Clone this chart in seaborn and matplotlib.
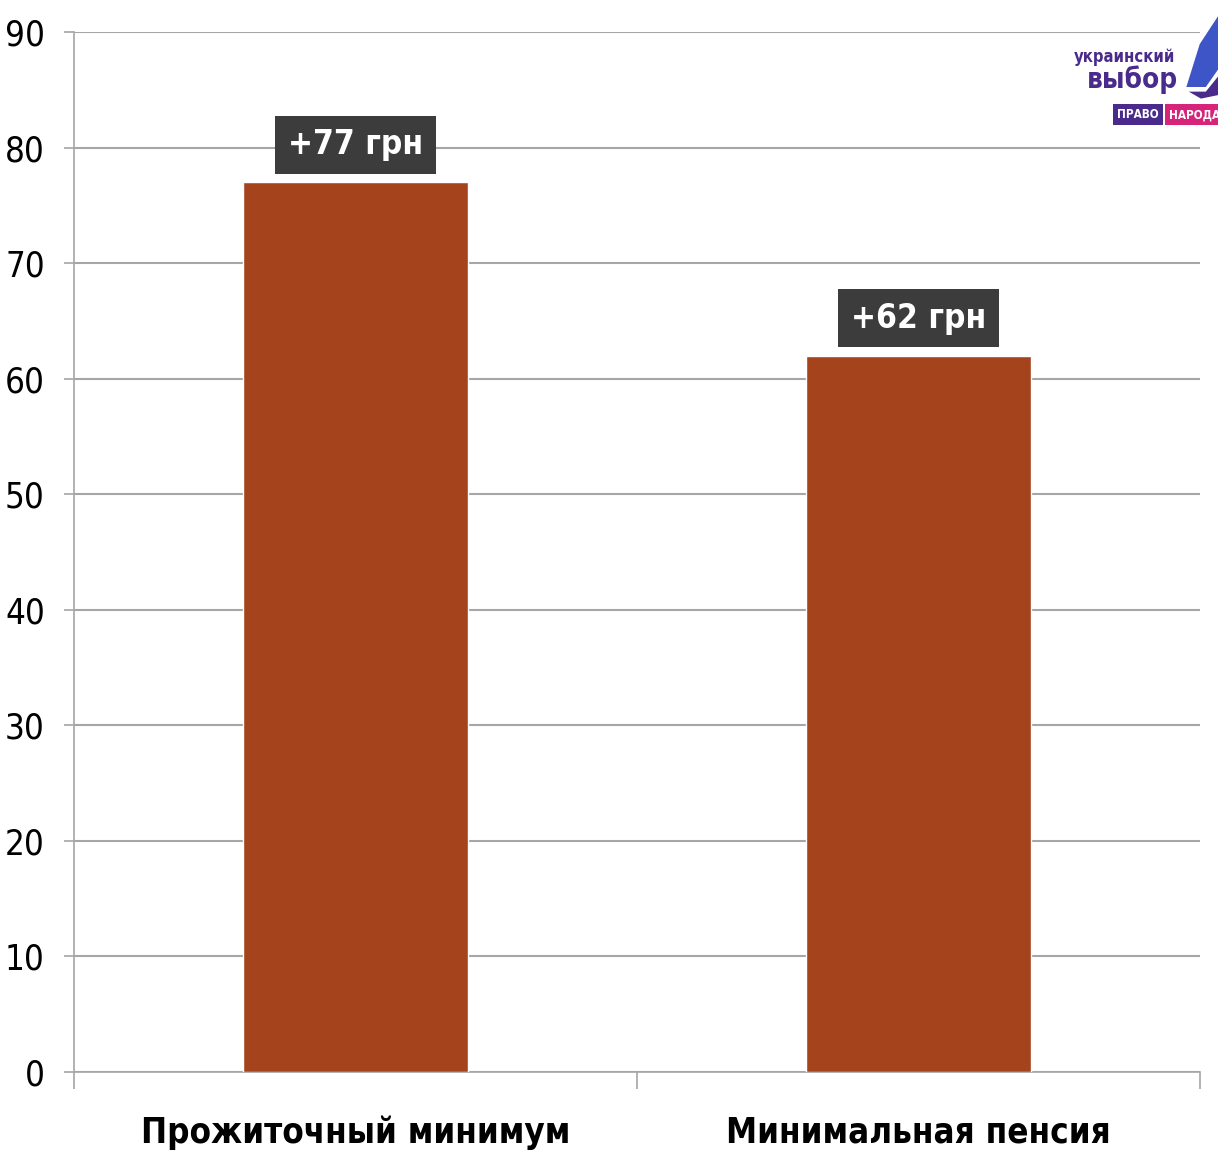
import matplotlib
matplotlib.use("Agg")
import matplotlib.pyplot as plt
import seaborn as sns
import pandas as pd
from matplotlib.patches import Polygon

categories = ["Прожиточный минимум", "Минимальная пенсия"]
values = [77, 62]
bar_labels = ["+77 грн", "+62 грн"]
y_ticks = [0, 10, 20, 30, 40, 50, 60, 70, 80, 90]

BAR_COLOR = "#A5441C"
GRID_COLOR = "#A6A6A6"
LOGO_PURPLE = "#4A2B8C"
LOGO_PINK = "#D6247A"

sns.set_style("white")
plt.rcParams["font.family"] = ["DejaVu Sans"]
plt.rcParams["font.stretch"] = "condensed"

df = pd.DataFrame({"category": categories, "value": values})

fig = plt.figure(figsize=(12.18, 11.6), dpi=100)
ax = fig.add_axes([0.0608, 0.0759, 0.9244, 0.8965])

sns.barplot(data=df, x="category", y="value", color=BAR_COLOR, width=0.4,
            saturation=1, ax=ax, zorder=3)

ax.set_ylim(0, 90)
ax.set_xlim(-0.5, 1.5)
ax.set_yticks(y_ticks)
ax.set_yticklabels([str(t) for t in y_ticks], fontsize=25, color="black")
ax.yaxis.grid(True, color=GRID_COLOR, linewidth=1.5, zorder=0)
ax.set_axisbelow(True)
ax.tick_params(axis="y", length=7, width=1.2, color=GRID_COLOR, pad=14, left=True)

# category boundaries get the ticks, names sit in between
ax.set_xticks([-0.5, 0.5, 1.5])
ax.set_xticklabels(["", "", ""])
ax.tick_params(axis="x", which="major", length=12, width=1.2, color=GRID_COLOR,
               bottom=True)
ax.set_xticks([0, 1], minor=True)
ax.set_xticklabels(categories, minor=True, fontsize=25, fontweight="bold",
                   color="black")
ax.tick_params(axis="x", which="minor", length=0, pad=31)

for s in ["top", "right"]:
    ax.spines[s].set_visible(False)
for s in ["left", "bottom"]:
    ax.spines[s].set_color(GRID_COLOR)
    ax.spines[s].set_linewidth(1.2)

ax.set_xlabel("")
ax.set_ylabel("")

for i, (v, lab) in enumerate(zip(values, bar_labels)):
    ax.annotate(lab, xy=(i, v), xytext=(0, 15), textcoords="offset points",
                ha="center", va="bottom", color="white", fontsize=24,
                fontweight="bold", zorder=5,
                bbox=dict(boxstyle="square,pad=0.38", fc="#3C3C3C", ec="none"))

# logo in the top right corner
swoosh = Polygon([[0.974, 0.925], [0.985, 0.962], [1.0, 0.986], [1.0, 0.94],
                  [0.99, 0.925]], closed=True, transform=fig.transFigure,
                 fc="#3E55C8", ec="none")
fig.patches.append(swoosh)
swoosh2 = Polygon([[0.976, 0.921], [0.99, 0.921], [1.0, 0.934], [1.0, 0.918],
                   [0.986, 0.915]], closed=True, transform=fig.transFigure,
                  fc=LOGO_PURPLE, ec="none")
fig.patches.append(swoosh2)
fig.text(0.965, 0.951, "украинский", ha="right", va="center", fontsize=12,
         fontweight="bold", color=LOGO_PURPLE)
fig.text(0.967, 0.931, "выбор", ha="right", va="center", fontsize=20,
         fontweight="bold", color=LOGO_PURPLE)
fig.text(0.917, 0.901, "ПРАВО", ha="left", va="center", fontsize=8.5,
         fontweight="bold", color="white",
         bbox=dict(boxstyle="square,pad=0.35", fc=LOGO_PURPLE, ec="none"))
fig.text(0.960, 0.901, "НАРОДА", ha="left", va="center", fontsize=8.5,
         fontweight="bold", color="white",
         bbox=dict(boxstyle="square,pad=0.35", fc=LOGO_PINK, ec="none"))

fig.savefig("out.png", dpi=100)
